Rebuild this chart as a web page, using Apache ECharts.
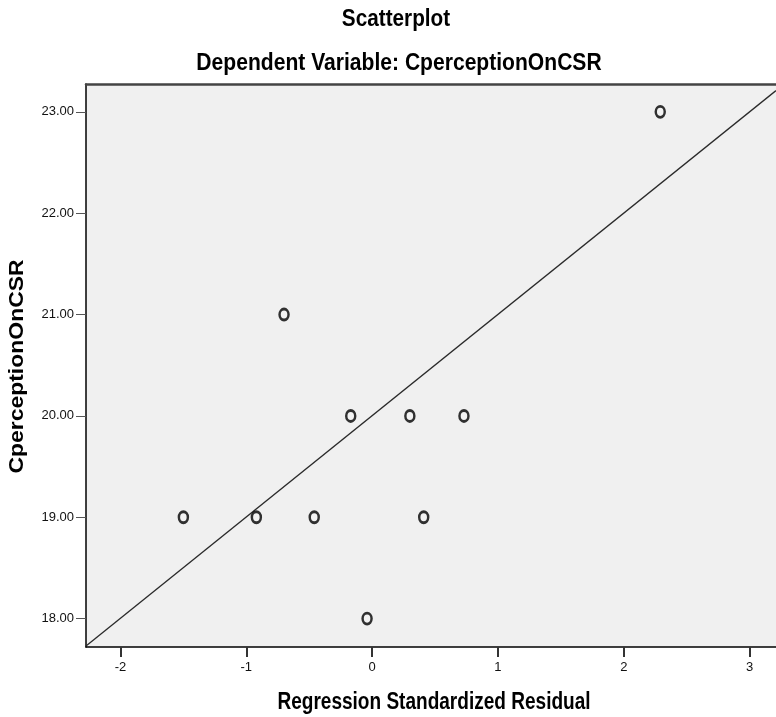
<!DOCTYPE html>
<html><head><meta charset="utf-8">
<script src="https://cdn.jsdelivr.net/npm/echarts@6/dist/echarts.min.js"></script>
<style>html,body{margin:0;padding:0;background:#fff}#c{width:776px;height:717px}</style>
</head><body><div id="c"></div>
<script>
// Data
const residuals = [2.29, -0.70, -0.17, 0.30, 0.73, -1.50, -0.92, -0.46, 0.41, -0.04];
const perception = [23, 21, 20, 20, 20, 19, 19, 19, 19, 18];
const fitLineX = [-2.274, 3.21];
const fitLineY = [17.73, 23.21];
const xTicks = [-2, -1, 0, 1, 2, 3];
const yTicks = [18, 19, 20, 21, 22, 23];
const xRange = [-2.274, 3.21];
const yRange = [17.72, 23.275];
const titleText = 'Scatterplot';
const subtitleText = 'Dependent Variable: CperceptionOnCSR';
const xName = 'Regression Standardized Residual';
const yName = 'CperceptionOnCSR';

const fam = '"Liberation Sans", Arial, sans-serif';
const boldFont = 'bold 17px ' + fam;
function label(text, x, y, sx, sy, rot) {
  return {type: 'text', x: x, y: y, rotation: rot || 0, scaleX: sx, scaleY: sy, silent: true,
    style: {text: text, font: boldFont, fill: '#000', align: 'center', verticalAlign: 'middle'}};
}
const chart = echarts.init(document.getElementById('c'));
chart.setOption({
  animation: false,
  backgroundColor: '#ffffff',
  graphic: [
    label(titleText, 396, 19.5, 1.22, 1.36),
    label(subtitleText, 399, 64, 1.24, 1.36),
    label(xName, 434, 703, 1.12, 1.36),
    label(yName, 17.5, 366.5, 1.35, 1.24, Math.PI / 2)
  ],
  grid: {left: 86, top: 84, right: 0, bottom: 70, show: true, backgroundColor: '#f0f0f0', borderWidth: 0,
         containLabel: false, outerBoundsMode: 'none'},
  xAxis: [{
    type: 'value', min: xRange[0], max: xRange[1], position: 'bottom',
    axisLine: {show: true, onZero: false, lineStyle: {color: '#000', width: 1.5}},
    axisTick: {show: true, customValues: xTicks, length: 10, lineStyle: {color: '#333', width: 2}},
    axisLabel: {customValues: xTicks, fontFamily: fam, fontSize: 13, color: '#111', margin: 14},
    splitLine: {show: false}
  }, {
    type: 'value', min: xRange[0], max: xRange[1], position: 'top',
    axisLine: {show: true, onZero: false, lineStyle: {color: '#444', width: 2.5}},
    axisTick: {show: false}, axisLabel: {show: false}, splitLine: {show: false}
  }],
  yAxis: {
    type: 'value', min: yRange[0], max: yRange[1],
    axisLine: {show: true, onZero: false, lineStyle: {color: '#000', width: 1.5}},
    axisTick: {show: true, customValues: yTicks, length: 10, lineStyle: {color: '#555', width: 1}},
    axisLabel: {customValues: yTicks, fontFamily: fam, fontSize: 13, color: '#111', margin: 12,
      formatter: v => v.toFixed(2)},
    splitLine: {show: false}
  },
  series: [{
    type: 'line', silent: true, symbol: 'none',
    data: fitLineX.map((x, i) => [x, fitLineY[i]]),
    lineStyle: {color: '#2a2a2a', width: 1.3}, z: 2
  }, {
    type: 'scatter', symbol: 'circle', symbolSize: [9, 11],
    data: residuals.map((x, i) => [x, perception[i]]),
    itemStyle: {color: '#f4f4f4', borderColor: '#000', borderWidth: 2.7}, z: 3
  }]
});
</script></body></html>
